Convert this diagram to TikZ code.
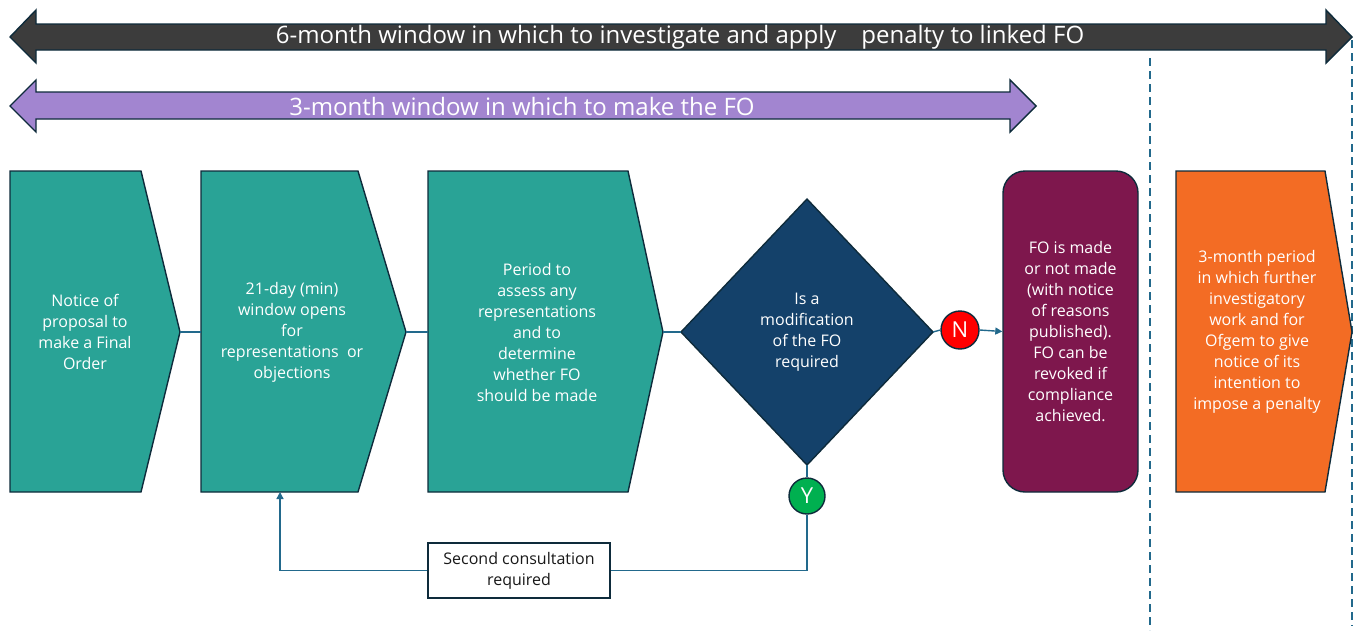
\documentclass[tikz,border=0pt]{standalone}
\usepackage{fontspec}
\setmainfont{Open Sans}
\usetikzlibrary{arrows.meta}

\definecolor{edge}{HTML}{0E2B3B}
\definecolor{barblack}{HTML}{3C3C3C}
\definecolor{barpurple}{HTML}{A285D0}
\definecolor{stepteal}{HTML}{29A396}
\definecolor{decnavy}{HTML}{14416A}
\definecolor{plum}{HTML}{7E174D}
\definecolor{orangebox}{HTML}{F36C24}
\definecolor{linkc}{HTML}{22698C}
\definecolor{noRed}{HTML}{FF0000}
\definecolor{yesGreen}{HTML}{00B050}

\begin{document}
\begin{tikzpicture}[x=1pt,y=-1pt,
  outl/.style={draw=edge,line width=1.4pt,line join=miter},
  lbl/.style={text=white,align=center,font=\fontsize{16}{21}\selectfont,inner sep=0pt},
  barlbl/.style={text=white,font=\fontsize{24}{26}\selectfont,inner sep=0pt},
  link/.style={draw=linkc,line width=1.4pt},
  tip/.style={-{Triangle[length=7pt,width=7pt]}},
  yn/.style={circle,draw=edge,line width=1.4pt,inner sep=0pt,text=white,font=\fontsize{22}{22}\selectfont},
  guide/.style={draw=linkc,line width=1.8pt,dash pattern=on 8pt off 5pt}]

\useasboundingbox (0,0) rectangle (1356,630);

% time-window bars
\path[outl,fill=barblack] (10,37) -- (36,10) -- (36,24) -- (1326,24) -- (1326,10) -- (1352,37)
  -- (1326,63) -- (1326,50) -- (36,50) -- (36,63) -- cycle;
\node[barlbl] (sixm) at (680,37) {6-month window in which to investigate and apply\ \ \ \ penalty to linked FO};

\path[outl,fill=barpurple] (10,106) -- (36,80) -- (36,92) -- (1010,92) -- (1010,80) -- (1036,106)
  -- (1010,132) -- (1010,119) -- (36,119) -- (36,132) -- cycle;
\node[barlbl] (threem) at (522,106) {3-month window in which to make the FO};

% dashed period markers
\draw[guide] (1150,58) -- (1150,630);
\draw[guide] (1352,40) -- (1352,626);

% process steps
\path[outl,fill=stepteal] (10,171) -- (141,171) -- (180,332) -- (141,492) -- (10,492) -- cycle;
\coordinate (s1out) at (180,332);
\node[lbl] (s1) at (85,332) {Notice of\\proposal to\\make a Final\\Order};

\path[outl,fill=stepteal] (201,171) -- (358,171) -- (406,332) -- (358,492) -- (201,492) -- cycle;
\coordinate (s2in) at (201,332);
\coordinate (s2out) at (406,332);
\coordinate (s2base) at (280,492);
\node[lbl] (s2) at (292,332) {21-day (min)\\window opens\\for\\representations\ \ or\\objections};

\path[outl,fill=stepteal] (428,171) -- (628,171) -- (663,332) -- (628,492) -- (428,492) -- cycle;
\coordinate (s3in) at (428,332);
\coordinate (s3out) at (663,332);
\node[lbl] (s3) at (537,332) {Period to\\assess any\\representations\\and to\\determine\\whether FO\\should be made};

% decision
\path[outl,fill=decnavy] (681,332) -- (807,199) -- (933,332) -- (807,465) -- cycle;
\coordinate (dIn) at (681,332);
\coordinate (dOut) at (933,332);
\coordinate (dDown) at (807,465);
\node[lbl] (dq) at (807,332) {Is a\\modification\\of the FO\\required};

\node[yn,fill=noRed,minimum size=38pt] (no) at (960,330) {N};
\node[yn,fill=yesGreen,minimum size=36pt] (yes) at (807,496) {Y};

% outcome
\node[outl,fill=plum,rounded corners=22pt,minimum width=135pt,minimum height=321pt,
  lbl,inner sep=0pt] (fo) at (1070.5,331.5)
  {FO is made\\or not made\\(with notice\\of reasons\\published).\\FO can be\\revoked if\\compliance\\achieved.};

% further period
\path[outl,fill=orangebox] (1176,171) -- (1325,171) -- (1352,332) -- (1325,492) -- (1176,492) -- cycle;
\node[lbl] (pen) at (1257,332) {3-month period\\in which further\\investigatory\\work and for\\Ofgem to give\\notice of its\\intention to\\impose a penalty};

% second consultation
\node[draw=edge,line width=1.4pt,fill=white,minimum width=182pt,minimum height=55pt,
  align=center,font=\fontsize{16}{21}\selectfont,text=black!90,inner sep=0pt] (sc) at (519,570.5)
  {Second consultation\\required};

% connectors
\draw[link] (s1out) -- (s2in);
\draw[link] (s2out) -- (s3in);
\draw[link] (s3out) -- (dIn);
\draw[link] (dOut) -- (no.west);
\draw[link,tip] (no.east) -- (fo.west);
\draw[link] (dDown) -- (yes.north);
\draw[link] (yes.south) |- (sc.east);
\draw[link,tip] (sc.west) -| (s2base);
\end{tikzpicture}
\end{document}
